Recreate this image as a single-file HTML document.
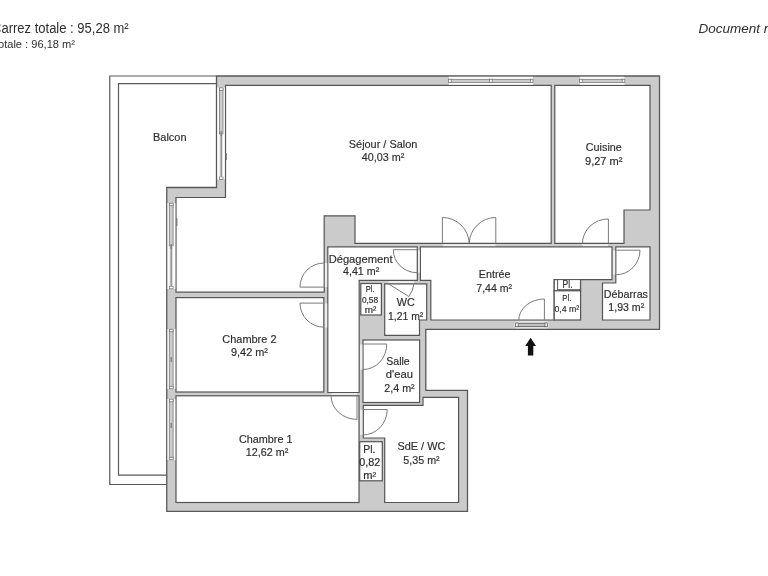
<!DOCTYPE html>
<html><head><meta charset="utf-8">
<style>
html,body{margin:0;padding:0;background:#fff;width:768px;height:576px;overflow:hidden}
svg{display:block;will-change:transform}
text{font-family:"Liberation Sans",sans-serif;fill:#2e2e2e;stroke:#2e2e2e;stroke-width:0.18px}
#hdr text{stroke:none}
</style></head><body>
<svg width="768" height="576" viewBox="0 0 768 576">
<g id="hdr">
<text x="-8" y="33" font-size="14" textLength="136.7" lengthAdjust="spacingAndGlyphs">Carrez totale : 95,28 m²</text>
<text x="-2" y="47.5" font-size="11" textLength="77" lengthAdjust="spacingAndGlyphs">otale : 96,18 m²</text>
<text x="698.5" y="33" font-size="13.5" font-style="italic">Document non contractuel</text>
</g>
<!-- balcony -->
<g fill="none" stroke="#5a5a5a" stroke-width="1.2">
<polyline points="216.5,76 109.75,76 109.75,484.5 166.75,484.5"/>
<polyline points="216.5,83.6 118.5,83.6 118.5,475.2 166.75,475.2"/>
</g>
<!-- footprint -->
<polygon fill="#cbcbcb" stroke="#585858" stroke-width="1.3" points="216.5,76 659.5,76 659.5,329.3 425.8,329.3 425.8,390.3 467.5,390.3 467.5,511.3 166.75,511.3 166.75,187.5 216.5,187.5"/>
<!-- rooms -->
<g fill="#fff" stroke="#555" stroke-width="1.2">
<polygon id="sejour" points="225.5,85.4 551.2,85.4 551.2,243.3 355,243.3 355,215.8 324.2,215.8 324.2,292.2 176,292.2 176,197.5 225.5,197.5"/>
<polygon id="cuisine" points="554.8,85.4 650,85.4 650,210 624,210 624,243.3 554.8,243.3"/>
<polygon id="entree" points="420.4,246.8 612,246.8 612,279.6 554.2,279.6 554.2,320 430.8,320 430.8,280.3 420.4,280.3"/>
<polygon id="debarras" points="615.8,246.8 650,246.8 650,320 602.5,320 602.5,283 615.8,283"/>
<rect id="pl1" x="554.2" y="279.6" width="26.4" height="11.2"/>
<rect id="pl04" x="554.2" y="290.8" width="26.4" height="29.2"/>
<polygon id="degag" points="327.8,246.8 417.3,246.8 417.3,280.3 359.2,280.3 359.2,392.5 327.8,392.5"/>
<rect id="pl058" x="360.8" y="283.5" width="20.6" height="31.5"/>
<polygon id="wc" points="384.7,283.8 426.7,283.8 426.7,320 419.5,320 419.5,335.3 384.7,335.3"/>
<rect id="sde" x="363" y="340" width="56.6" height="62.5"/>
<polygon id="sdewc" points="363.3,405.4 423,405.4 423,397.3 458.6,397.3 458.6,502.5 384.7,502.5 384.7,438 363.3,438"/>
<rect id="pl082" x="359.7" y="441.7" width="22.6" height="39.1"/>
<rect id="ch2" x="176" y="297.6" width="147.8" height="94.4"/>
<rect id="ch1" x="176" y="395.8" width="183" height="106.7"/>
</g>

<!-- windows -->
<g id="windows">
<g fill="#fff" stroke="none">
<rect x="448.8" y="76.8" width="84.2" height="7.9"/>
<rect x="580" y="76.8" width="44.5" height="7.9"/>
<rect x="217.3" y="87.5" width="7.5" height="92"/>
<rect x="167.5" y="203" width="7.8" height="86"/>
<rect x="167.5" y="329" width="7.8" height="60"/>
<rect x="167.5" y="399" width="7.8" height="61"/>
</g>
<g fill="#cdcdcd" stroke="#7a7a7a" stroke-width="0.8">
<rect x="449.8" y="79.3" width="82.2" height="3.2"/>
<rect x="581" y="79.3" width="42.5" height="3.2"/>
<rect x="219.4" y="88.5" width="3.6" height="45.5"/>
<rect x="169.3" y="204" width="3.8" height="42"/>
<rect x="169.3" y="330" width="3.8" height="58"/>
<rect x="169.3" y="400" width="3.8" height="59"/>
</g>
<g fill="#fff" stroke="#6a6a6a" stroke-width="0.7">
<rect x="448.6" y="79.2" width="2.6" height="3.4"/>
<rect x="489.6" y="79.2" width="2.6" height="3.4"/>
<rect x="530.4" y="79.2" width="2.6" height="3.4"/>
<rect x="579.6" y="79.2" width="2.6" height="3.4"/>
<rect x="622.2" y="79.2" width="2.6" height="3.4"/>
<rect x="219.4" y="87.8" width="3.6" height="2.6"/>
<rect x="219.4" y="176.8" width="3.6" height="2.6"/>
<rect x="169.3" y="203.2" width="3.8" height="2.6"/>
<rect x="169.3" y="286.2" width="3.8" height="2.6"/>
<rect x="169.3" y="329.2" width="3.8" height="2.6"/>
<rect x="169.3" y="386.2" width="3.8" height="2.6"/>
<rect x="169.3" y="399.2" width="3.8" height="2.6"/>
<rect x="169.3" y="457.2" width="3.8" height="2.6"/>
</g>
</g>
<g fill="#dcdcdc" stroke="none">
<rect x="219.6" y="134" width="3.2" height="43"/>
<rect x="169.5" y="246" width="3.4" height="40"/>
</g>
<g stroke="#6a6a6a" stroke-width="0.9">
<line x1="221.2" y1="134" x2="221.2" y2="177"/>
<line x1="171.2" y1="246" x2="171.2" y2="286"/>
</g>
<!-- window handles -->
<g fill="#777">
<rect x="225.6" y="153" width="1.2" height="7"/>
<rect x="220.6" y="131" width="1.2" height="5"/>
<rect x="176.2" y="218" width="1.2" height="8"/>
<rect x="170.6" y="244" width="1.2" height="5"/>
<rect x="170.6" y="357" width="1.2" height="5"/>
<rect x="170.6" y="423" width="1.2" height="5"/>
</g>
<!-- door thresholds (light openings in walls) -->
<g fill="#ededed" stroke="none">
<rect x="442.8" y="244.1" width="52.6" height="2"/>
<rect x="582.5" y="244.1" width="25.5" height="2"/>
<rect x="324.9" y="263" width="2.3" height="24"/>
<rect x="324.9" y="303.5" width="2.3" height="24"/>
<rect x="331.5" y="393" width="25.5" height="1.8"/>
<rect x="360" y="344.5" width="2.4" height="25"/>
<rect x="360" y="409.8" width="2.4" height="25"/>
<rect x="418" y="250.5" width="1.8" height="22"/>
<rect x="388.5" y="281" width="25.5" height="2"/>
<rect x="613" y="250.5" width="2.2" height="24"/>
</g>
<!-- entry threshold -->
<rect x="514.7" y="321.5" width="33.7" height="6.8" rx="1.5" fill="#fff"/>
<rect x="516.2" y="323.2" width="30.8" height="3.5" fill="#c2c2c2" stroke="#555" stroke-width="0.9"/>
<rect x="515.5" y="323" width="2.6" height="3.8" fill="#fff" stroke="#555" stroke-width="0.7"/>
<rect x="545" y="323" width="2.6" height="3.8" fill="#fff" stroke="#555" stroke-width="0.7"/>
<!-- doors -->
<g fill="none" stroke="#7a7a7a" stroke-width="1">
<path d="M442.4 243.3 V217.5 A26.8 26.8 0 0 1 469.2 243.3"/>
<path d="M495.8 243.3 V217.5 A26.6 26.6 0 0 0 469.2 243.3"/>
<path d="M608.4 243.5 V219 A25.5 24.5 0 0 0 582.5 243.5"/>
<path d="M616.2 250.2 H640 A23.8 24.5 0 0 1 616.2 274.7"/>
<path d="M417 249.7 H393.3 A23.7 23 0 0 0 417 272.7"/>
<path d="M324 287.1 H300 A24 24 0 0 1 324 263"/>
<path d="M324 303.1 H300 A24 24 0 0 0 324 327.2"/>
<path d="M357 395.4 V419.4 A26 24 0 0 1 331 395.4"/>
<path d="M363 344 H386.7 A23.7 25 0 0 1 363 369.5"/>
<path d="M362.7 409.5 H387.2 A24.5 25.5 0 0 1 362.7 435"/>
<path d="M388 283.5 L408.8 296.6 A25.5 25.5 0 0 0 414 283.5"/>
<path d="M544.4 320.4 V299 A25.7 21.4 0 0 0 518.7 320.4"/>
</g>
<!-- arrow -->
<path d="M530.6 337.7 L536 346 L533.3 346 L533.3 355.4 L527.9 355.4 L527.9 346 L525.2 346 Z" fill="#111"/>
<!-- small Pl box inner -->
<rect x="557.6" y="279.6" width="22.8" height="10.1" fill="#fff" stroke="#555" stroke-width="1"/>

<!-- text labels -->
<g font-size="11.5" text-anchor="start">
<text x="153" y="141.2" textLength="33.5" lengthAdjust="spacingAndGlyphs">Balcon</text>
<text x="348.8" y="148" textLength="68.5" lengthAdjust="spacingAndGlyphs">Séjour / Salon</text>
<text x="361.8" y="160.5" textLength="42.5" lengthAdjust="spacingAndGlyphs">40,03 m²</text>
<text x="585.8" y="151.2" textLength="36" lengthAdjust="spacingAndGlyphs">Cuisine</text>
<text x="585" y="165" textLength="37.5" lengthAdjust="spacingAndGlyphs">9,27 m²</text>
<text x="328.7" y="262.5" textLength="63.8" lengthAdjust="spacingAndGlyphs">Dégagement</text>
<text x="343" y="274.7" textLength="36.2" lengthAdjust="spacingAndGlyphs">4,41 m²</text>
<text x="478.8" y="278.1" textLength="31.6" lengthAdjust="spacingAndGlyphs">Entrée</text>
<text x="476.3" y="291.7" textLength="35.7" lengthAdjust="spacingAndGlyphs">7,44 m²</text>
<text x="396.7" y="306.3" textLength="18" lengthAdjust="spacingAndGlyphs">WC</text>
<text x="388" y="319.7" textLength="35.3" lengthAdjust="spacingAndGlyphs">1,21 m²</text>
<text x="386.3" y="364.5" textLength="23.4" lengthAdjust="spacingAndGlyphs">Salle</text>
<text x="385.8" y="378" textLength="27.2" lengthAdjust="spacingAndGlyphs">d'eau</text>
<text x="384.2" y="391.7" textLength="30.5" lengthAdjust="spacingAndGlyphs">2,4 m²</text>
<text x="397.5" y="450.3" textLength="47.8" lengthAdjust="spacingAndGlyphs">SdE / WC</text>
<text x="403.3" y="464.2" textLength="36.4" lengthAdjust="spacingAndGlyphs">5,35 m²</text>
<text x="222.3" y="343" textLength="54.2" lengthAdjust="spacingAndGlyphs">Chambre 2</text>
<text x="231" y="356.2" textLength="37" lengthAdjust="spacingAndGlyphs">9,42 m²</text>
<text x="239" y="443" textLength="53.5" lengthAdjust="spacingAndGlyphs">Chambre 1</text>
<text x="245.8" y="456.2" textLength="42.5" lengthAdjust="spacingAndGlyphs">12,62 m²</text>
<text x="603.8" y="297.5" textLength="44.2" lengthAdjust="spacingAndGlyphs">Débarras</text>
<text x="608.3" y="310.8" textLength="35.9" lengthAdjust="spacingAndGlyphs">1,93 m²</text>
</g>
<g font-size="10">
<text x="365.7" y="291.8" font-size="8.8" textLength="8.9" lengthAdjust="spacingAndGlyphs">Pl.</text>
<text x="361.9" y="302.6" font-size="8.8" textLength="16.3" lengthAdjust="spacingAndGlyphs">0,58</text>
<text x="364.7" y="313.3" font-size="8.8" textLength="11.6" lengthAdjust="spacingAndGlyphs">m²</text>
<text x="363.3" y="452.5" textLength="12" lengthAdjust="spacingAndGlyphs">Pl.</text>
<text x="359.2" y="465.8" textLength="21.1" lengthAdjust="spacingAndGlyphs">0,82</text>
<text x="363.3" y="479.2" textLength="13" lengthAdjust="spacingAndGlyphs">m²</text>
<text x="562.3" y="301.1" font-size="9" textLength="9" lengthAdjust="spacingAndGlyphs">Pl.</text>
<text x="554.5" y="312.3" font-size="9.5" textLength="24.8" lengthAdjust="spacingAndGlyphs">0,4 m²</text>
<text x="562.6" y="287.9" font-size="10" textLength="10" lengthAdjust="spacingAndGlyphs">Pl.</text>
</g>
</svg>
</body></html>
